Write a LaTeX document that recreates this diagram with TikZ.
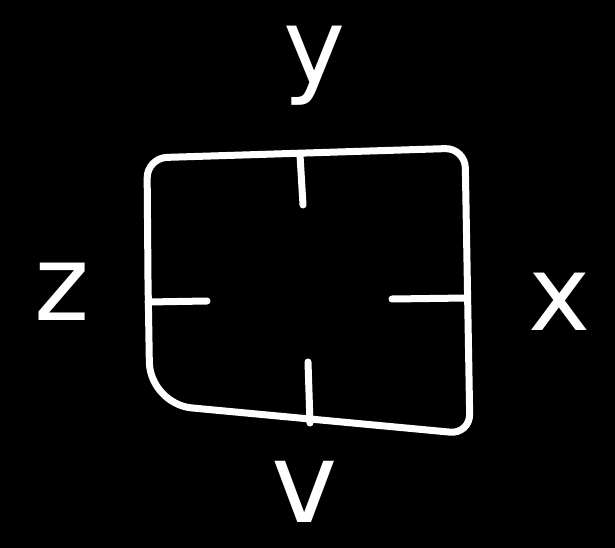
\documentclass[tikz,border=0pt]{standalone}
\usepackage{fontspec}
\setmainfont{DejaVu Sans}
\begin{document}
\begin{tikzpicture}[x=1pt,y=-1pt,
  chalk/.style={draw=white,line width=7pt,line cap=round,line join=round},
  lbl/.style={text=white,font=\fontsize{105}{105}\selectfont,inner sep=0pt,anchor=base}]
\useasboundingbox[fill=black] (0,0) rectangle (615,548);
% box corners
\coordinate (ml) at (148,280);
\coordinate (tl) at (147,158);
\coordinate (tr) at (465,148);
\coordinate (br) at (470,434);
\coordinate (bl) at (150,404);
\draw[chalk] (ml) [rounded corners=20pt] -- (tl) -- (tr) -- (br)
  [rounded corners=42pt] -- (bl) [rounded corners=20pt] -- (ml);
% ticks
\coordinate (t1) at (300,155);
\coordinate (t2) at (303,205);
\coordinate (b1) at (308,362);
\coordinate (b2) at (310,423);
\coordinate (l1) at (148,302);
\coordinate (l2) at (207,301);
\coordinate (r1) at (392,299);
\coordinate (r2) at (467,298);
\draw[chalk] (t1) -- (t2);
\draw[chalk] (b1) -- (b2);
\draw[chalk] (l1) -- (l2);
\draw[chalk] (r1) -- (r2);
% labels
\node[lbl] (ly) at (315,84) {y};
\node[lbl] (lz) at (62,320) {z};
\node[lbl] (lx) at (560,330) {x};
\node[lbl,font=\fontsize{112}{112}\selectfont] (lv) at (305,522) {v};
\end{tikzpicture}
\end{document}
